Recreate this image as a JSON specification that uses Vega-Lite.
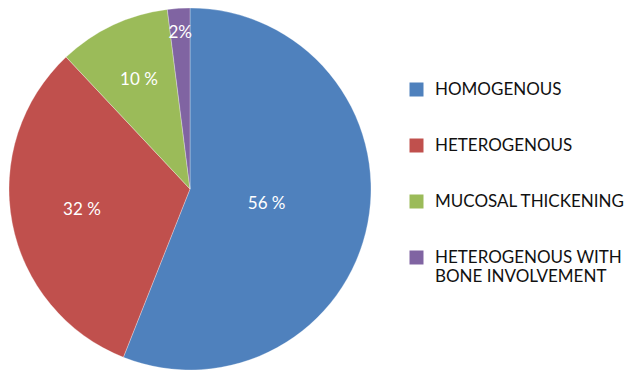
{
  "$schema": "https://vega.github.io/schema/vega-lite/v6.json",
  "width": 380,
  "height": 378,
  "padding": 0,
  "autosize": {"type": "pad"},
  "background": "white",
  "config": {"view": {"stroke": null}, "font": "Lato"},
  "data": {
    "values": [
      {"category": "HOMOGENOUS", "value": 56, "label": "56 %", "idx": 1},
      {"category": "HETEROGENOUS", "value": 32, "label": "32 %", "idx": 2},
      {"category": "MUCOSAL THICKENING", "value": 10, "label": "10 %", "idx": 3},
      {"category": "HETEROGENOUS WITH BONE INVOLVEMENT", "value": 2, "label": "2%", "idx": 4}
    ]
  },
  "layer": [
    {
      "mark": {"type": "arc", "radius": 181, "stroke": "white", "strokeWidth": 0.3},
      "encoding": {
        "theta": {"field": "value", "type": "quantitative", "stack": true},
        "order": {"field": "idx", "type": "quantitative"},
        "color": {
          "field": "category",
          "type": "nominal",
          "scale": {
            "domain": ["HOMOGENOUS", "HETEROGENOUS", "MUCOSAL THICKENING", "HETEROGENOUS WITH BONE INVOLVEMENT"],
            "range": ["#4F81BD", "#C0504D", "#9BBB59", "#8064A2"]
          },
          "legend": {
            "title": null,
            "orient": "none",
            "legendX": 408,
            "legendY": 81,
            "symbolType": "square",
            "symbolSize": 196,
            "symbolStrokeWidth": 0,
            "labelFont": "Lato",
            "labelFontSize": 17,
            "labelColor": "#111111",
            "labelOffset": 10,
            "labelLimit": 300,
            "rowPadding": 38,
            "labelExpr": "datum.label == 'HETEROGENOUS WITH BONE INVOLVEMENT' ? ['HETEROGENOUS WITH', 'BONE INVOLVEMENT'] : datum.label"
          }
        }
      }
    },
    {
      "mark": {"type": "text", "color": "white", "font": "Lato", "fontSize": 17},
      "encoding": {
        "theta": {"field": "value", "type": "quantitative", "stack": true},
        "order": {"field": "idx", "type": "quantitative"},
        "radius": {
          "field": "value",
          "type": "quantitative",
          "scale": {"type": "linear", "domain": [2, 10, 32, 56], "range": [156, 120, 110, 78], "zero": false}
        },
        "text": {"field": "label", "type": "nominal"}
      }
    }
  ]
}
